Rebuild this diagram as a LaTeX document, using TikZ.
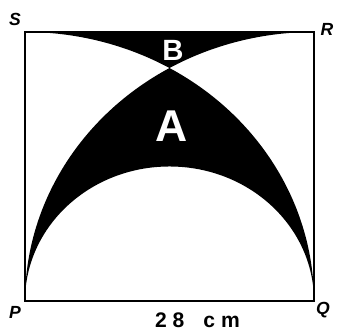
\documentclass[tikz,border=0pt]{standalone}
\usepackage{fontspec}
\setmainfont{Liberation Sans}
\usetikzlibrary{calc, positioning}

\begin{document}
\begin{tikzpicture}[x=0.3096cm, y=0.2882cm,
      corner/.style={font=\bfseries\itshape\fontsize{15}{15}\selectfont, inner sep=0pt},
      region/.style={text=white, font=\bfseries, inner sep=0pt}]
            \useasboundingbox (-2.422,-3.123) rectangle (30.23,31.33);
            \coordinate (P) at (0,0);
            \coordinate (Q) at (28,0);
            \coordinate (R) at (28,28);
            \coordinate (S) at (0,28);
            % region B, above where the quarter arcs cross
            \fill (S) -- (R) arc[start angle=90, end angle=120, radius=28]
               arc[start angle=60, end angle=90, radius=28] -- cycle;
            % region A, lens minus the half circle on PQ
            \fill (P) arc[start angle=180, end angle=120, radius=28]
               arc[start angle=60, end angle=0, radius=28]
               arc[start angle=0, end angle=180, radius=14] -- cycle;
            \draw[line width=2.2pt] (P) -- (Q) -- (R) -- (S) -- cycle;
            \node[corner] (labS) at (-0.97,29.35) {S};
            \node[corner] (labR) at (29.26,28.31) {R};
            \node[corner] (labP) at (-0.97,-1.15) {P};
            \node[corner] (labQ) at (28.87,-0.94) {Q};
            \node[font=\bfseries\fontsize{18}{18}\selectfont, inner sep=0pt] (side) at (16.71,-2.03) {2 8\hspace{0.9em}c m};
            \node[region, font=\bfseries\fontsize{25}{25}\selectfont] (B) at (14.34,26.13) {B};
            \node[region, font=\bfseries\fontsize{38}{38}\selectfont] (A) at (14.24,18.22) {A};
         \end{tikzpicture}
\end{document}
